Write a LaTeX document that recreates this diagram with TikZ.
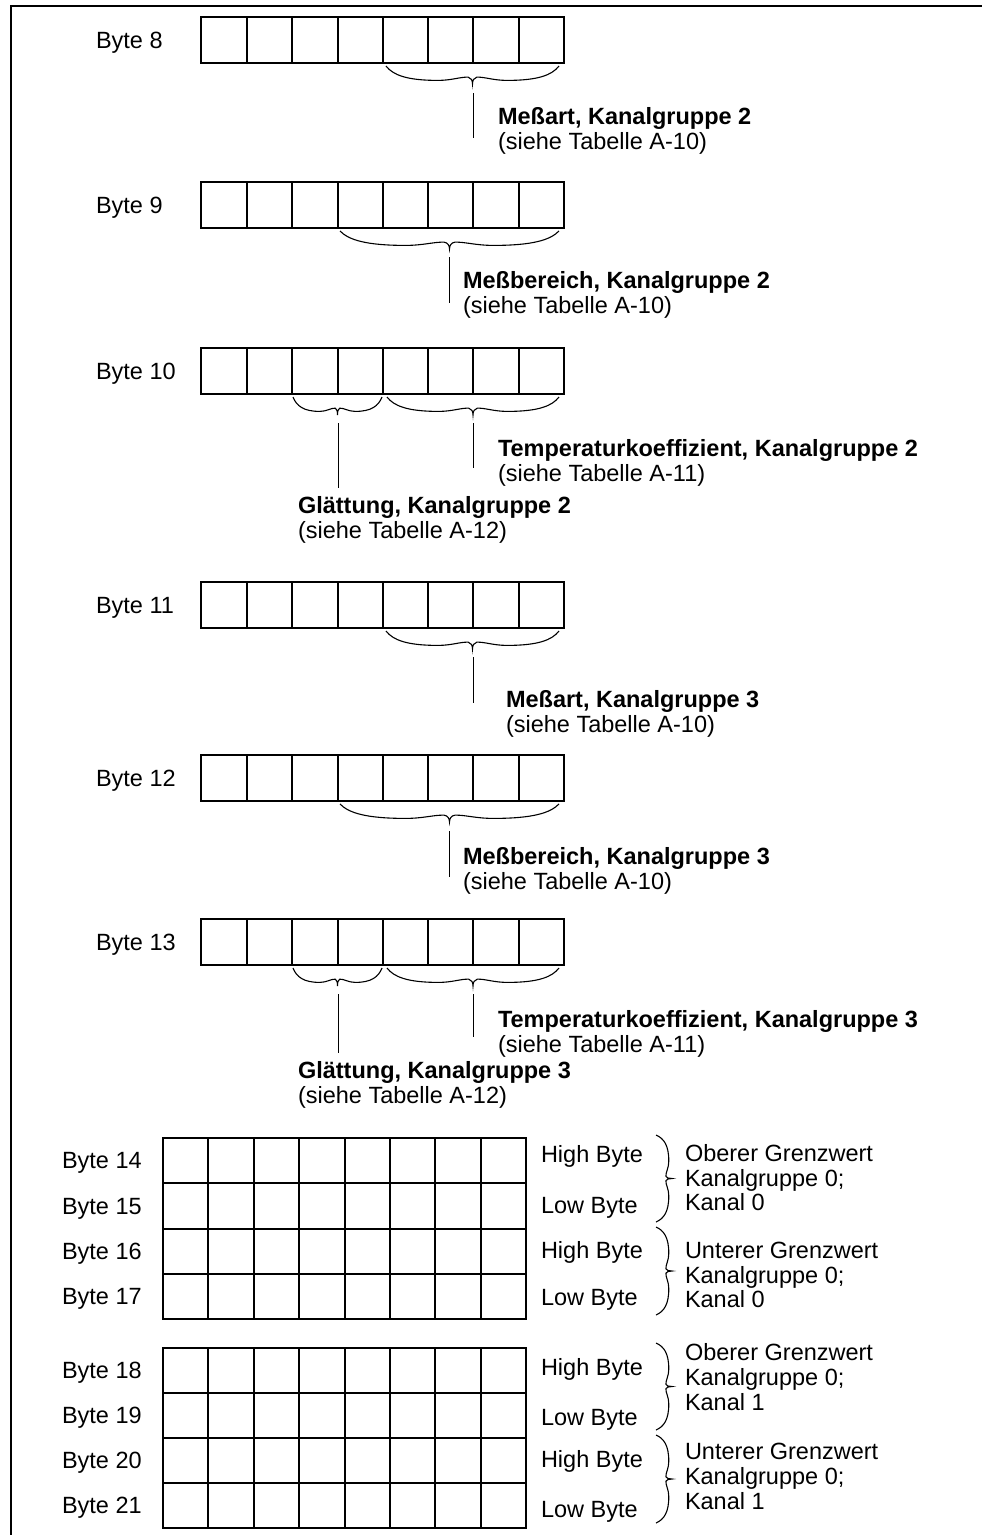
\documentclass[tikz,border=0pt]{standalone}
\usepackage{fontspec}
\setmainfont{Liberation Sans}
% byte box of 8 cells: name, top y, height
\newcommand\mybytebox[3]{%
  \foreach \i/\xa/\xb in {1/201/247,2/247/292,3/292/338,4/338/383,5/383/428,6/428/473,7/473/519,8/519/564} {
    \node[cell, minimum width={\xb pt - \xa pt}, minimum height=#3] (#1c\i) at (\xa,#2) {};
  }%
}
% downward curly brace: x1, x2, y0, amplitude
\newcommand\myhbrace[4]{%
  \pgfmathsetmacro\mybw{#2-#1}%
  \pgfmathsetmacro\mybm{(#1+#2)/2}%
  \draw[brc] (#1,#3)
    .. controls ({#1+0.04*\mybw},{#3+0.5*#4}) and ({#1+0.12*\mybw},{#3+0.8*#4}) .. ({#1+0.3*\mybw},{#3+0.8*#4})
    .. controls ({\mybm-0.12*\mybw},{#3+0.8*#4}) and ({\mybm-0.07*\mybw},{#3+0.6*#4}) .. ({\mybm-0.025*\mybw},{#3+0.62*#4})
    .. controls ({\mybm-0.008*\mybw},{#3+0.65*#4}) and (\mybm,{#3+0.8*#4}) .. (\mybm,{#3+#4})
    .. controls (\mybm,{#3+0.8*#4}) and ({\mybm+0.008*\mybw},{#3+0.65*#4}) .. ({\mybm+0.025*\mybw},{#3+0.62*#4})
    .. controls ({\mybm+0.07*\mybw},{#3+0.6*#4}) and ({\mybm+0.12*\mybw},{#3+0.8*#4}) .. ({#2-0.3*\mybw},{#3+0.8*#4})
    .. controls ({#2-0.12*\mybw},{#3+0.8*#4}) and ({#2-0.04*\mybw},{#3+0.5*#4}) .. (#2,#3);%
}
% rightward curly brace: y1, y2, x0, amplitude
\newcommand\myvbrace[4]{%
  \pgfmathsetmacro\mybw{#2-#1}%
  \pgfmathsetmacro\mybm{(#1+#2)/2}%
  \draw[brc] (#3,#1)
    .. controls ({#3+0.5*#4},{#1+0.04*\mybw}) and ({#3+0.8*#4},{#1+0.12*\mybw}) .. ({#3+0.8*#4},{#1+0.3*\mybw})
    .. controls ({#3+0.8*#4},{\mybm-0.12*\mybw}) and ({#3+0.6*#4},{\mybm-0.07*\mybw}) .. ({#3+0.62*#4},{\mybm-0.025*\mybw})
    .. controls ({#3+0.65*#4},{\mybm-0.008*\mybw}) and ({#3+0.8*#4},\mybm) .. ({#3+#4},\mybm)
    .. controls ({#3+0.8*#4},\mybm) and ({#3+0.65*#4},{\mybm+0.008*\mybw}) .. ({#3+0.62*#4},{\mybm+0.025*\mybw})
    .. controls ({#3+0.6*#4},{\mybm+0.07*\mybw}) and ({#3+0.8*#4},{\mybm+0.12*\mybw}) .. ({#3+0.8*#4},{#2-0.3*\mybw})
    .. controls ({#3+0.8*#4},{#2-0.12*\mybw}) and ({#3+0.5*#4},{#2-0.04*\mybw}) .. (#3,#2);%
}
\begin{document}
\begin{tikzpicture}[x=1pt,y=-1pt,
  cell/.style={draw, line width=1.3pt, inner sep=0pt, outer sep=0pt, anchor=north west},
  tcell/.style={draw, line width=1.1pt, inner sep=0pt, outer sep=0pt, anchor=north west},
  txt/.style={font=\fontsize{23.5}{25}\selectfont, anchor=base west, inner sep=0pt, outer sep=0pt},
  btxt/.style={txt, font=\fontsize{23.5}{25}\selectfont\bfseries},
  brc/.style={draw, line width=1.1pt},
  conn/.style={draw, line width=1pt},
  sep/.style={draw, line width=2pt},
  frame/.style={draw, line width=2pt}]
\useasboundingbox (0,0) rectangle (982,1535);
% frame
\coordinate (fbl) at (11,1535);
\coordinate (ftl) at (11,6);
\coordinate (ftr) at (982,6);
\draw[frame] (fbl) -- (ftl) -- (ftr);

% ---- Byte 8
\mybytebox{b8}{17}{46pt}
\node[txt] (l8) at (96,48.4) {Byte 8};
\myhbrace{386}{559}{66}{18}
\coordinate (v8a) at (473,93); \coordinate (v8b) at (473,138);
\draw[conn] (v8a) -- (v8b);
\node[btxt] (m8a) at (498,124) {Meßart, Kanalgruppe 2};
\node[txt] (m8b) at (498,149) {(siehe Tabelle A-10)};

% ---- Byte 9
\mybytebox{b9}{182}{46pt}
\node[txt] (l9) at (96,213.4) {Byte 9};
\myhbrace{340}{559}{231}{18}
\coordinate (v9a) at (449,257); \coordinate (v9b) at (449,303);
\draw[conn] (v9a) -- (v9b);
\node[btxt] (m9a) at (463,288) {Meßbereich, Kanalgruppe 2};
\node[txt] (m9b) at (463,313) {(siehe Tabelle A-10)};

% ---- Byte 10
\mybytebox{b10}{348}{46pt}
\node[txt] (l10) at (96,379.4) {Byte 10};
\myhbrace{293}{382}{397}{18}
\myhbrace{387}{559}{397}{18}
\coordinate (v10a) at (473,423); \coordinate (v10b) at (473,468);
\draw[conn] (v10a) -- (v10b);
\coordinate (w10a) at (338,423); \coordinate (w10b) at (338,488);
\draw[conn] (w10a) -- (w10b);
\node[btxt] (m10a) at (498,456) {Temperaturkoeffizient, Kanalgruppe 2};
\node[txt] (m10b) at (498,481) {(siehe Tabelle A-11)};
\node[btxt] (g10a) at (298,513) {Glättung, Kanalgruppe 2};
\node[txt] (g10b) at (298,538) {(siehe Tabelle A-12)};

% ---- Byte 11
\mybytebox{b11}{582}{46pt}
\node[txt] (l11) at (96,613.4) {Byte 11};
\myhbrace{386}{559}{631}{18}
\coordinate (v11a) at (473,657); \coordinate (v11b) at (473,703);
\draw[conn] (v11a) -- (v11b);
\node[btxt] (m11a) at (506,707) {Meßart, Kanalgruppe 3};
\node[txt] (m11b) at (506,732) {(siehe Tabelle A-10)};

% ---- Byte 12
\mybytebox{b12}{755}{46pt}
\node[txt] (l12) at (96,786.4) {Byte 12};
\myhbrace{340}{559}{804}{18}
\coordinate (v12a) at (449,831); \coordinate (v12b) at (449,877);
\draw[conn] (v12a) -- (v12b);
\node[btxt] (m12a) at (463,864) {Meßbereich, Kanalgruppe 3};
\node[txt] (m12b) at (463,889) {(siehe Tabelle A-10)};

% ---- Byte 13
\mybytebox{b13}{919}{46pt}
\node[txt] (l13) at (96,950.4) {Byte 13};
\myhbrace{293}{382}{968}{18}
\myhbrace{387}{559}{968}{18}
\coordinate (v13a) at (473,994); \coordinate (v13b) at (473,1037);
\draw[conn] (v13a) -- (v13b);
\coordinate (w13a) at (338,994); \coordinate (w13b) at (338,1053);
\draw[conn] (w13a) -- (w13b);
\node[btxt] (m13a) at (498,1027) {Temperaturkoeffizient, Kanalgruppe 3};
\node[txt] (m13b) at (498,1052) {(siehe Tabelle A-11)};
\node[btxt] (g13a) at (298,1078) {Glättung, Kanalgruppe 3};
\node[txt] (g13b) at (298,1103) {(siehe Tabelle A-12)};

% ---- Tables
\foreach \r/\ya/\yb in {14/1138/1183, 15/1183/1229, 16/1229/1274, 17/1274/1319,
                        18/1348/1393, 19/1393/1438, 20/1438/1483, 21/1483/1528} {
  \foreach \i/\xa/\xb in {1/163/208,2/208/254,3/254/299,4/299/345,5/345/390,6/390/435,7/435/481,8/481/526} {
    \node[tcell, minimum width={\xb pt - \xa pt}, minimum height={\yb pt - \ya pt}] (t\r c\i) at (\xa,\ya) {};
  }
  \node[txt] (tl\r) at (62, {(\ya+\yb)/2+8.4}) {Byte \r};
}
\node[txt] (hl14) at (541,1162.4) {High Byte};
\node[txt] (hl15) at (541,1213.4) {Low Byte};
\node[txt] (hl16) at (541,1258.4) {High Byte};
\node[txt] (hl17) at (541,1305.4) {Low Byte};
\node[txt] (hl18) at (541,1375.4) {High Byte};
\node[txt] (hl19) at (541,1425.4) {Low Byte};
\node[txt] (hl20) at (541,1467.4) {High Byte};
\node[txt] (hl21) at (541,1517.4) {Low Byte};
% thick separators
\foreach \r in {14,15,16,18,19,20} {
  \draw[sep] (t\r c1.south west) -- (t\r c8.south east);
}
% right braces
\myvbrace{1135}{1222}{656}{16}
\myvbrace{1227}{1315}{656}{16}
\myvbrace{1343}{1430}{656}{16}
\myvbrace{1435}{1523}{656}{16}
\node[txt] (r1a) at (685,1161) {Oberer Grenzwert};
\node[txt] (r1b) at (685,1186) {Kanalgruppe 0;};
\node[txt] (r1c) at (685,1210) {Kanal 0};
\node[txt] (r2a) at (685,1258) {Unterer Grenzwert};
\node[txt] (r2b) at (685,1283) {Kanalgruppe 0;};
\node[txt] (r2c) at (685,1307) {Kanal 0};
\node[txt] (r3a) at (685,1360) {Oberer Grenzwert};
\node[txt] (r3b) at (685,1385) {Kanalgruppe 0;};
\node[txt] (r3c) at (685,1410) {Kanal 1};
\node[txt] (r4a) at (685,1459) {Unterer Grenzwert};
\node[txt] (r4b) at (685,1484) {Kanalgruppe 0;};
\node[txt] (r4c) at (685,1509) {Kanal 1};
\end{tikzpicture}
\end{document}
